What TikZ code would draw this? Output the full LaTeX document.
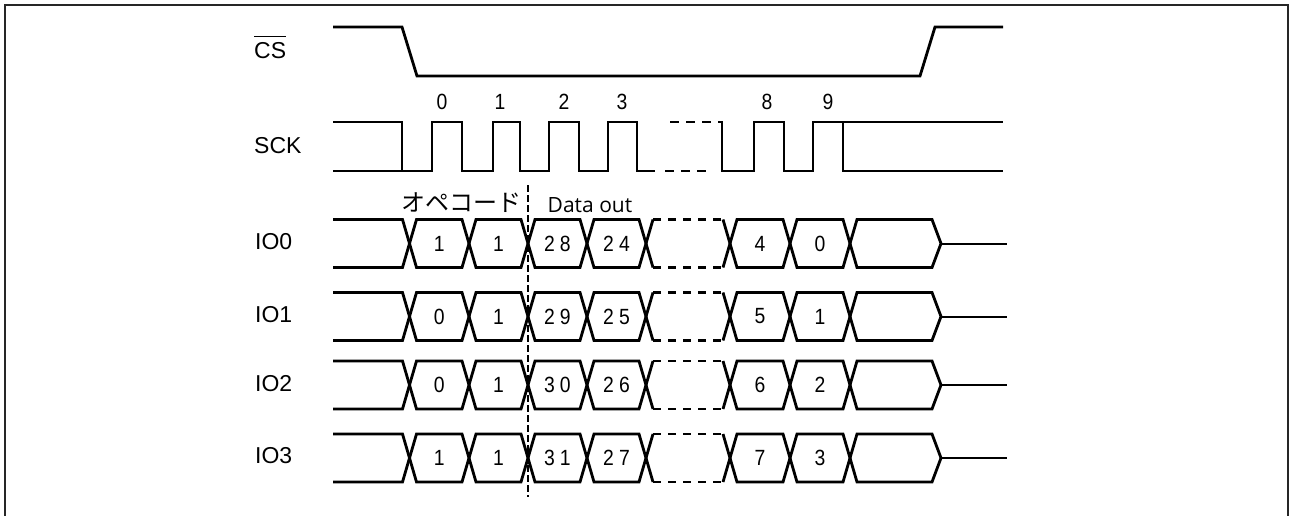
\documentclass[tikz,border=0pt]{standalone}
\usepackage{fontspec}
\setmainfont{Liberation Sans}
\newfontfamily\jpfont{Noto Sans CJK JP}
\newfontfamily\dofont{Open Sans}
\newfontfamily\numfont[FakeStretch=0.88]{Liberation Sans}
\newcommand\dd[2]{#1\kern5pt#2}
\begin{document}
\begin{tikzpicture}[x=1pt,y=-1pt,
  wave/.style={line width=2.8pt, line join=miter},
  dwave/.style={line width=2.8pt, dash pattern=on 8pt off 7pt},
  lbl/.style={anchor=west, inner sep=0pt, font=\fontsize{23}{23}\selectfont},
  num/.style={inner sep=0pt, font=\numfont\fontsize{22}{22}\selectfont}]
\useasboundingbox (0,0) rectangle (1290,516);
% frame
\draw[line width=2pt, black!85] (5,516) -- (5,5) -- (1288,5) -- (1288,516);

% signal labels
\node[lbl] (lcs) at (254,51) {CS};
\draw[line width=1.3pt] ([yshift=6pt]lcs.north west) -- ([yshift=6pt]lcs.north east);
\node[lbl] (lsck) at (254,146) {SCK};
\node[lbl] (lio0) at (255,242) {IO0};
\node[lbl] (lio1) at (255,315) {IO1};
\node[lbl] (lio2) at (255,384) {IO2};
\node[lbl] (lio3) at (255,456) {IO3};

% CS waveform
\draw[wave] (333,27) -- (402,27) -- (417,76) -- (920,76) -- (935,27) -- (1003,27);

% SCK waveform
\draw[wave] (333,122) -- (402,122) -- (402,171);
\draw[wave] (333,171) -- (432,171) -- (432,122) -- (462,122) -- (462,171)
  -- (493,171) -- (493,122) -- (520,122) -- (520,171)
  -- (549,171) -- (549,122) -- (579,122) -- (579,171)
  -- (608,171) -- (608,122) -- (637,122) -- (637,171) -- (655,171);
\draw[line width=2.8pt, dash pattern=on 9pt off 7pt] (665,171) -- (706,171);
\draw[line width=2.8pt, dash pattern=on 9pt off 7pt] (670,122) -- (720,122);
\draw[wave] (718,122) -- (722,122) -- (722,171) -- (754,171) -- (754,122)
  -- (784,122) -- (784,171) -- (813,171) -- (813,122) -- (1003,122);
\draw[wave] (843,122) -- (843,171) -- (1003,171);

% clock numbers
\node[num] (k0) at (442,102) {0};
\node[num] (k1) at (500,102) {1};
\node[num] (k2) at (564,102) {2};
\node[num] (k3) at (622,102) {3};
\node[num] (k8) at (767,102) {8};
\node[num] (k9) at (828,102) {9};

% boundary marker
\draw[line width=1.3pt, dash pattern=on 7pt off 3pt] (528,185) -- (528,497);
\node[inner sep=0pt, font=\jpfont\fontsize{24}{24}\selectfont] (opc) at (461,203) {オペコード};
\node[inner sep=0pt, font=\dofont\fontsize{21}{21}\selectfont] (dout) at (590,205) {Data out};

% IO rows
\foreach \yc/\va/\vb/\vc/\vd/\ve/\vf [count=\r] in
  {243.5/1/1/\dd28/\dd24/4/0,
   316.5/0/1/\dd29/\dd25/5/1,
   385/0/1/\dd30/\dd26/6/2,
   458/1/1/\dd31/\dd27/7/3}{
  \pgfmathsetmacro\yt{\yc-24}
  \pgfmathsetmacro\yb{\yc+24}
  \draw[wave] (333,\yt) -- (402.5,\yt) -- (409.5,\yc) -- (402.5,\yb) -- (333,\yb);
  \foreach \p/\q in {409.5/469, 469/528, 528/587, 587/646, 730/790, 790/850}{
    \draw[wave] (\p,\yc) -- (\p+7,\yt) -- (\q-7,\yt) -- (\q,\yc) -- (\q-7,\yb) -- (\p+7,\yb) -- cycle;
  }
  \draw[wave] (653,\yt) -- (646,\yc) -- (653,\yb);
  \draw[wave] (723,\yt) -- (730,\yc) -- (723,\yb);
  \draw[dwave] (653,\yt) -- (723,\yt);
  \draw[dwave] (653,\yb) -- (723,\yb);
  \draw[wave] (850,\yc) -- (857,\yt) -- (932,\yt) -- (941,\yc) -- (932,\yb) -- (857,\yb) -- cycle;
  \draw[line width=2pt] (941,\yc) -- (1007,\yc);
  \node[num] (v\r a) at (439.25,\yc) {\va};
  \node[num] (v\r b) at (498.5,\yc) {\vb};
  \node[num] (v\r c) at (557.5,\yc) {\vc};
  \node[num] (v\r d) at (616.5,\yc) {\vd};
  \node[num] (v\r e) at (760,\yc) {\ve};
  \node[num] (v\r f) at (820,\yc) {\vf};
}
\end{tikzpicture}
\end{document}
